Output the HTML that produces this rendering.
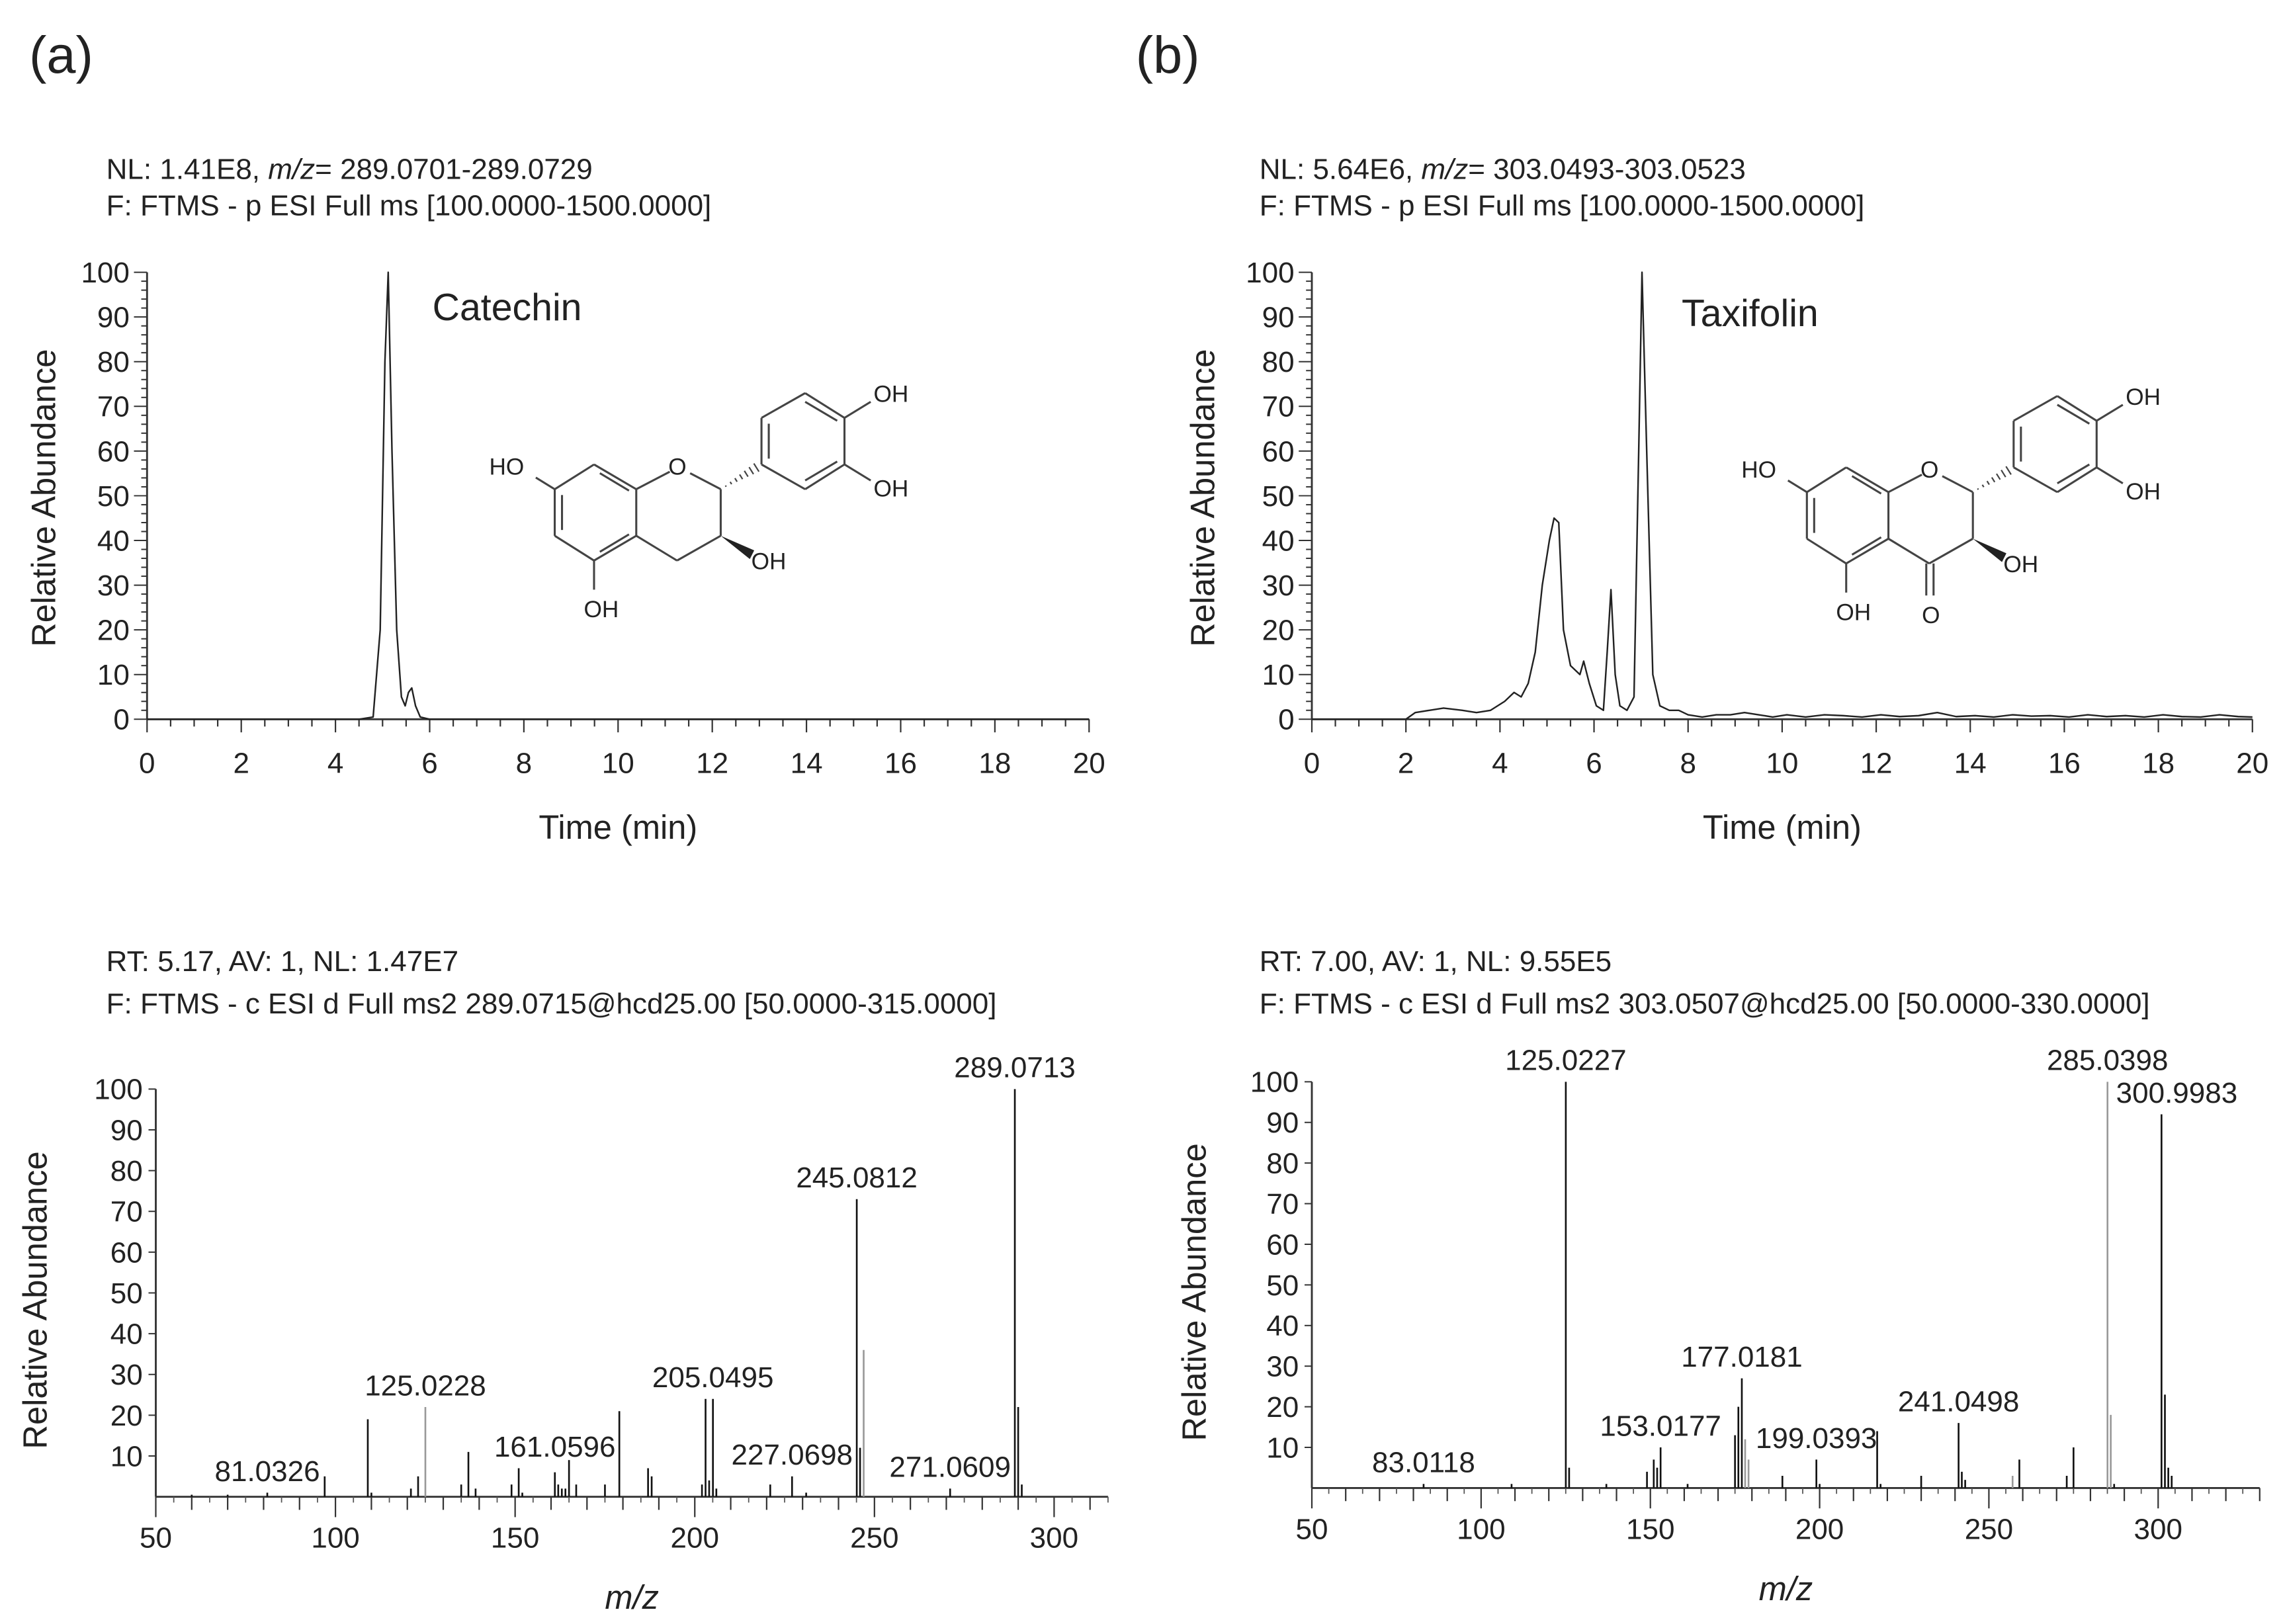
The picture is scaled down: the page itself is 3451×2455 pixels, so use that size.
<!DOCTYPE html>
<html><head><meta charset="utf-8"><style>
html,body{margin:0;padding:0;background:#fff}
svg{display:block}
text{font-family:"Liberation Sans",Arial,sans-serif;fill:#222}
</style></head><body>
<svg id="fig" xmlns="http://www.w3.org/2000/svg" width="3451" height="2455" viewBox="0 0 1568 1115.4" preserveAspectRatio="none">
<rect width="1568" height="1115.4" fill="#fff"/>
<text x="20" y="50" font-size="36">(a)</text>
<text x="780" y="50" font-size="36">(b)</text>
<g font-size="20">
<text x="73" y="123">NL: 1.41E8,  <tspan font-style="italic">m/z</tspan>= 289.0701-289.0729</text>
<text x="73" y="148">F: FTMS - p ESI Full ms [100.0000-1500.0000]</text></g>
<g font-size="20">
<text x="865" y="123">NL: 5.64E6,  <tspan font-style="italic">m/z</tspan>= 303.0493-303.0523</text>
<text x="865" y="148">F: FTMS - p ESI Full ms [100.0000-1500.0000]</text></g>
<g font-size="20">
<text x="73" y="667">RT: 5.17, AV: 1, NL: 1.47E7</text>
<text x="73" y="696">F: FTMS - c ESI d Full ms2 289.0715@hcd25.00 [50.0000-315.0000]</text></g>
<g font-size="20">
<text x="865" y="667">RT: 7.00, AV: 1, NL: 9.55E5</text>
<text x="865" y="696">F: FTMS - c ESI d Full ms2 303.0507@hcd25.00 [50.0000-330.0000]</text></g>
<text x="297" y="220" font-size="26">Catechin</text>
<text x="1155" y="224" font-size="26">Taxifolin</text>
<g id="mols"></g>
<g id="charts"></g>
</svg>
<script>
// ---------- data ----------
const chromA_t = [0,4.5,4.8,4.95,5.05,5.12,5.2,5.3,5.4,5.48,5.55,5.62,5.7,5.8,6.0,8,20];
const chromA_y = [0,0,0.5,20,80,100,60,20,5,3,6,7,3,0.5,0,0,0];
const chromB_t = [0,2.0,2.2,2.5,2.8,3.2,3.5,3.8,4.1,4.3,4.45,4.6,4.75,4.9,5.05,5.15,5.25,5.35,5.5,5.6,5.7,5.78,5.9,6.05,6.2,6.28,6.36,6.45,6.55,6.7,6.85,6.95,7.02,7.12,7.25,7.4,7.6,7.8,8.0,8.3,8.6,8.9,9.2,9.5,9.8,10.1,10.5,10.9,11.3,11.7,12.1,12.5,12.9,13.3,13.7,14.1,14.5,14.9,15.3,15.7,16.1,16.5,16.9,17.3,17.7,18.1,18.5,18.9,19.3,19.7,20];
const chromB_y = [0,0,1.5,2,2.5,2,1.5,2,4,6,5,8,15,30,40,45,44,20,12,11,10,13,8,3,2,15,29,10,3,2,5,60,100,60,10,3,2,2,1,0.5,1,1,1.5,1,0.5,1,0.5,1,0.8,0.5,1,0.6,0.8,1.5,0.6,0.8,0.5,1,0.7,0.8,0.5,1,0.6,0.8,0.5,1,0.6,0.5,1,0.6,0.5];
const specA_mz = [60,70,81.03,97,109,110,121,123,125.02,135,137,139,149,151,152,161.06,162,163,164,165,167,175,179,187,188,202,203,204,205.05,206,221,227.07,231,245.08,246,247,271.06,289.07,290,291];
const specA_int = [0.5,0.5,1,5,19,1,2,5,22,3,11,2,3,7,1,6,3,2,2,9,3,3,21,7,5,3,24,4,24,2,3,5,1,73,12,36,2,100,22,3];
const specA_gray = [125.02,247];
const specB_mz = [83.01,109,126,137,149,151,152,153.02,161,175,176,177.02,178,179,189,199.04,200,217,218,230,241.05,242,243,257,259,273,275,285.04,286,287,300.99,302,303,304];
const specB_int = [1,1,5,1,4,7,5,10,1,13,20,27,12,7,3,7,1,14,1,3,16,4,2,3,7,3,10,100,18,1,92,23,5,3];
const specB_gray = [178,179,285.04,286,257];
const specB_main = [125.02]; const specB_mainInt = [100];
const labelsA = ["81.0326","125.0228","161.0596","205.0495","227.0698","245.0812","271.0609","289.0713"];
const labelsA_mz = [81.03,125.02,161.06,205.05,227.07,245.08,271.06,289.07];
const labelsA_int = [1,22,7,24,5,73,2,100];
const labelsB = ["83.0118","125.0227","153.0177","177.0181","199.0393","241.0498","285.0398","300.9983"];
const labelsB_mz = [83.01,125.02,153.02,177.02,199.04,241.05,285.04,305.5];
const labelsB_int = [1,100,10,27,7,16,100,92];
const timeTicks = [0,2,4,6,8,10,12,14,16,18,20];
const yTicksTop = [0,10,20,30,40,50,60,70,80,90,100];
const yTicksBot = [10,20,30,40,50,60,70,80,90,100];
const mzTicks = [50,100,150,200,250,300];

const NS="http://www.w3.org/2000/svg";
const root=document.getElementById('charts');
function el(tag,attrs,parent){const e=document.createElementNS(NS,tag);for(const k in attrs)e.setAttribute(k,attrs[k]);(parent||root).appendChild(e);return e;}
function txt(x,y,s,size,anchor,parent){const t=el('text',{x:x,y:y,'font-size':size,'text-anchor':anchor||'middle'},parent);t.textContent=s;return t;}

function axes(cfg){
  const g=el('g',{});
  
  
  const X=v=>cfg.x0+(v-cfg.xmin)/(cfg.xmax-cfg.xmin)*(cfg.x1-cfg.x0);
  const Y=v=>cfg.y0-(v-0)/100*(cfg.y0-cfg.y100);
  el('line',{x1:cfg.x0,y1:cfg.y0,x2:cfg.x1,y2:cfg.y0,stroke:'#333','stroke-width':1.3},g);
  el('line',{x1:cfg.x0,y1:cfg.y0,x2:cfg.x0,y2:cfg.y100,stroke:'#333','stroke-width':1.3},g);
  return {g,X,Y};
}

// ---- top chromatograms ----
function chrom(name,x0,x1,tt,yy,labelX){
  const {g,X,Y}=axes({name:name,x0:x0,x1:x1,xmin:0,xmax:20,y0:494,y100:187});
  for(let v=0;v<=20.001;v+=0.5){const maj=Math.abs(v%2)<1e-6;el('line',{x1:X(v),y1:494,x2:X(v),y2:494+(maj?9:5),stroke:'#333','stroke-width':1},g);}
  timeTicks.forEach(v=>txt(X(v),531,String(v),20,'middle',g));
  for(let v=0;v<=100;v+=2){const maj=v%10===0;el('line',{x1:x0-(maj?9:4),y1:Y(v),x2:x0,y2:Y(v),stroke:'#333','stroke-width':0.9},g);}
  yTicksTop.forEach(v=>txt(x0-12,Y(v)+7,String(v),20,'end',g));
  const ya=txt(0,0,'Relative Abundance',23,'middle',g);ya.setAttribute('transform',`translate(${labelX},342) rotate(-90)`);
  
  
  const xa=txt((x0+x1)/2,576,'Time (min)',23,'middle',g);
  
  
  let d='';tt.forEach((t,i)=>{d+=(i?'L':'M')+X(t).toFixed(2)+','+Y(yy[i]).toFixed(2);});
  const p=el('path',{d:d,fill:'none',stroke:'#222','stroke-width':1.1,'stroke-linejoin':'round'},g);
  
  
}
chrom('chromatogram-catechin',101,748,chromA_t,chromA_y,38);
chrom('chromatogram-taxifolin',901,1547,chromB_t,chromB_y,834);

// ---- bottom spectra ----
function spec(name,x0,x1,xmax,y0,y100,mz,inten,gray,labs,lmz,lint,labelX){
  const {g,X,Y}=axes({name:name,x0:x0,x1:x1,xmin:50,xmax:xmax,y0:y0,y100:y100});
  for(let v=50;v<=xmax;v+=10){const maj=v%50===0;el('line',{x1:X(v),y1:y0,x2:X(v),y2:y0+(maj?14:9),stroke:'#333','stroke-width':1},g);}
  for(let v=55;v<=xmax;v+=10){el('line',{x1:X(v),y1:y0,x2:X(v),y2:y0+4,stroke:'#555','stroke-width':0.8},g);}
  mzTicks.forEach(v=>txt(X(v),y0+35,String(v),20,'middle',g));
  const Yb=v=>y0-v/100*(y0-y100);
  yTicksBot.forEach(v=>{el('line',{x1:x0-5,y1:Yb(v),x2:x0,y2:Yb(v),stroke:'#333','stroke-width':0.9},g);txt(x0-9,Yb(v)+7,String(v),20,'end',g);});
  const ya=txt(0,0,'Relative Abundance',23,'middle',g);ya.setAttribute('transform',`translate(${labelX},${(y0+y100)/2+5}) rotate(-90)`);
  
  
  const xa=txt((x0+x1)/2,y0+77,'m/z',23,'middle',g);xa.setAttribute('font-style','italic');
  
  
  mz.forEach((m,i)=>{
    const ln=el('line',{x1:X(m),y1:y0,x2:X(m),y2:Yb(inten[i]),stroke:gray.includes(m)?'#999':'#111','stroke-width':1.2},g);
    
    
  });
  labs.forEach((s,i)=>{
    const t=txt(X(lmz[i]),Yb(lint[i])-8,s,20,'middle',g);
    
    
  });
}
spec('spectrum-catechin',107,761,315,1028,748,specA_mz,specA_int,specA_gray,labelsA,labelsA_mz,labelsA_int,32);
spec('spectrum-taxifolin',901,1552,330,1022,743,specB_mz.concat(specB_main),specB_int.concat(specB_mainInt),specB_gray,labelsB,labelsB_mz,labelsB_int,828);

// ---- molecule drawings ----
const mols=document.getElementById('mols');
function molecule(dx,dy,keto,name){
  const g=el('g',{transform:`translate(${dx},${dy})`,stroke:'#444','stroke-width':1.4,fill:'none'},mols);
  
  
  const P={a1:[408,319],a2:[437,336],a3:[437,368],a4:[408,385],a5:[381,368],a6:[381,336],O:[460,324],c2:[495,336],c3:[495,368],c4:[465,385],
    b1:[523,319],b2:[523,287],b3:[553,270],b4:[580,287],b5:[580,319],b6:[553,336]};
  const L=(p,q)=>el('line',{x1:P[p][0],y1:P[p][1],x2:P[q][0],y2:P[q][1]},g);
  const Lc=(a,b,c,d)=>el('line',{x1:a,y1:b,x2:c,y2:d},g);
  [['a1','a2'],['a2','a3'],['a3','a4'],['a4','a5'],['a5','a6'],['a6','a1'],['a2','O'],['c2','c3'],['c3','c4'],['c4','a3'],
   ['b1','b2'],['b2','b3'],['b3','b4'],['b4','b5'],['b5','b6'],['b6','b1']].forEach(e=>L(e[0],e[1]));
  Lc(474,325,495,336);
  Lc(386,340,386,364); Lc(412,325,432,337); Lc(412,379,432,367);
  Lc(528,291,528,315); Lc(553,276,575,289); Lc(553,330,575,317);
  for(let i=1;i<=7;i++){const t=i/8;const x=495+(523-495)*t,y=336+(319-336)*t;const w=t*4;el('line',{x1:x-w*0.5,y1:y-w*0.8,x2:x+w*0.5,y2:y+w*0.8,'stroke-width':1},g);}
  el('polygon',{points:'495,368 518,378 515,384',fill:'#222',stroke:'none'},g);
  Lc(381,336,368,328); Lc(408,385,408,405); Lc(580,287,598,276); Lc(580,319,598,330);
  if(keto){Lc(463,385,463,407);Lc(468,385,468,407);}
  const tg=el('g',{stroke:'none',fill:'#333'},g);
  [['HO',336,326],['OH',401,424],['OH',516,391],['OH',600,276],['OH',600,341],['O',459,326]].forEach(a=>{const t=txt(a[1],a[2],a[0],16,'start',tg);t.setAttribute('fill','#333');});
  if(keto){const t=txt(460,426,'O',16,'start',tg);t.setAttribute('fill','#333');}
}
molecule(0,0,false,'catechin-structure');
molecule(860,2,true,'taxifolin-structure');
</script>
</body></html>
